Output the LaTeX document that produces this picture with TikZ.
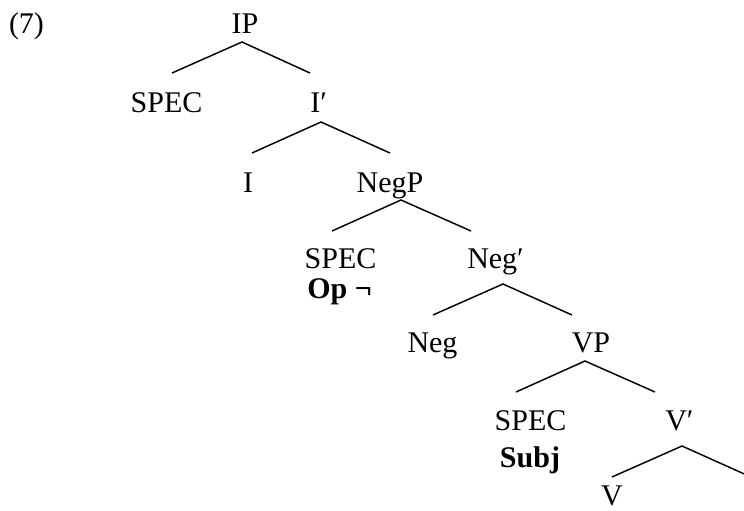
\documentclass[tikz,border=0pt]{standalone}
\usepackage{fontspec}
\setmainfont{Liberation Serif}
\begin{document}
\begin{tikzpicture}[x=0.75pt,y=-0.75pt,
  lbl/.style={inner sep=0pt,anchor=base,font=\fontsize{22.5}{27}\selectfont},
  lblw/.style={lbl,anchor=base west},
  branch/.style={line width=1.1pt,line join=miter}]
\useasboundingbox (0,0) rectangle (744,511);
\clip (0,0) rectangle (744,511);

% example number
\node[lbl] (num) at (26.5,33) {(7)};

% labels of the tree
\node[lbl]  (ip)    at (245,33)    {IP};
\node[lbl]  (spec1) at (166.5,112) {SPEC};
\node[lblw] (ibar)  at (310,112)   {I′};
\node[lbl]  (i)     at (248,192)   {I};
\node[lbl]  (negp)  at (390,192)   {NegP};
\node[lbl]  (spec2) at (340.5,268) {SPEC};
\node[lblw] (op)    at (307,298)   {\textbf{Op ¬}};
\node[lblw] (negbar) at (467,268)  {Neg′};
\node[lbl]  (neg)   at (432.5,352) {Neg};
\node[lbl]  (vp)    at (591,352)   {VP};
\node[lbl]  (spec3) at (530.5,430) {SPEC};
\node[lbl]  (subj)  at (530,467)   {\textbf{Subj}};
\node[lblw] (vbar)  at (665,430)   {V′};
\node[lbl]  (v)     at (612,505)   {V};

% branch points: apex under each mother, ends above each daughter
\coordinate (ip-a)   at (242,42);  \coordinate (ip-l)   at (172,73);  \coordinate (ip-r)   at (310,73);
\coordinate (ibar-a) at (321,122); \coordinate (ibar-l) at (252,153); \coordinate (ibar-r) at (390,153);
\coordinate (negp-a) at (401,200); \coordinate (negp-l) at (332,231); \coordinate (negp-r) at (471,231);
\coordinate (negb-a) at (503,284); \coordinate (negb-l) at (433,315); \coordinate (negb-r) at (572,315);
\coordinate (vp-a)   at (585,361); \coordinate (vp-l)   at (516,392); \coordinate (vp-r)   at (655,392);
\coordinate (vbar-a) at (682,446); \coordinate (vbar-l) at (612,477); \coordinate (vbar-r) at (751,477);

\draw[branch] (ip-l)   -- (ip-a)   -- (ip-r);
\draw[branch] (ibar-l) -- (ibar-a) -- (ibar-r);
\draw[branch] (negp-l) -- (negp-a) -- (negp-r);
\draw[branch] (negb-l) -- (negb-a) -- (negb-r);
\draw[branch] (vp-l)   -- (vp-a)   -- (vp-r);
\draw[branch] (vbar-l) -- (vbar-a) -- (vbar-r);
\end{tikzpicture}
\end{document}
